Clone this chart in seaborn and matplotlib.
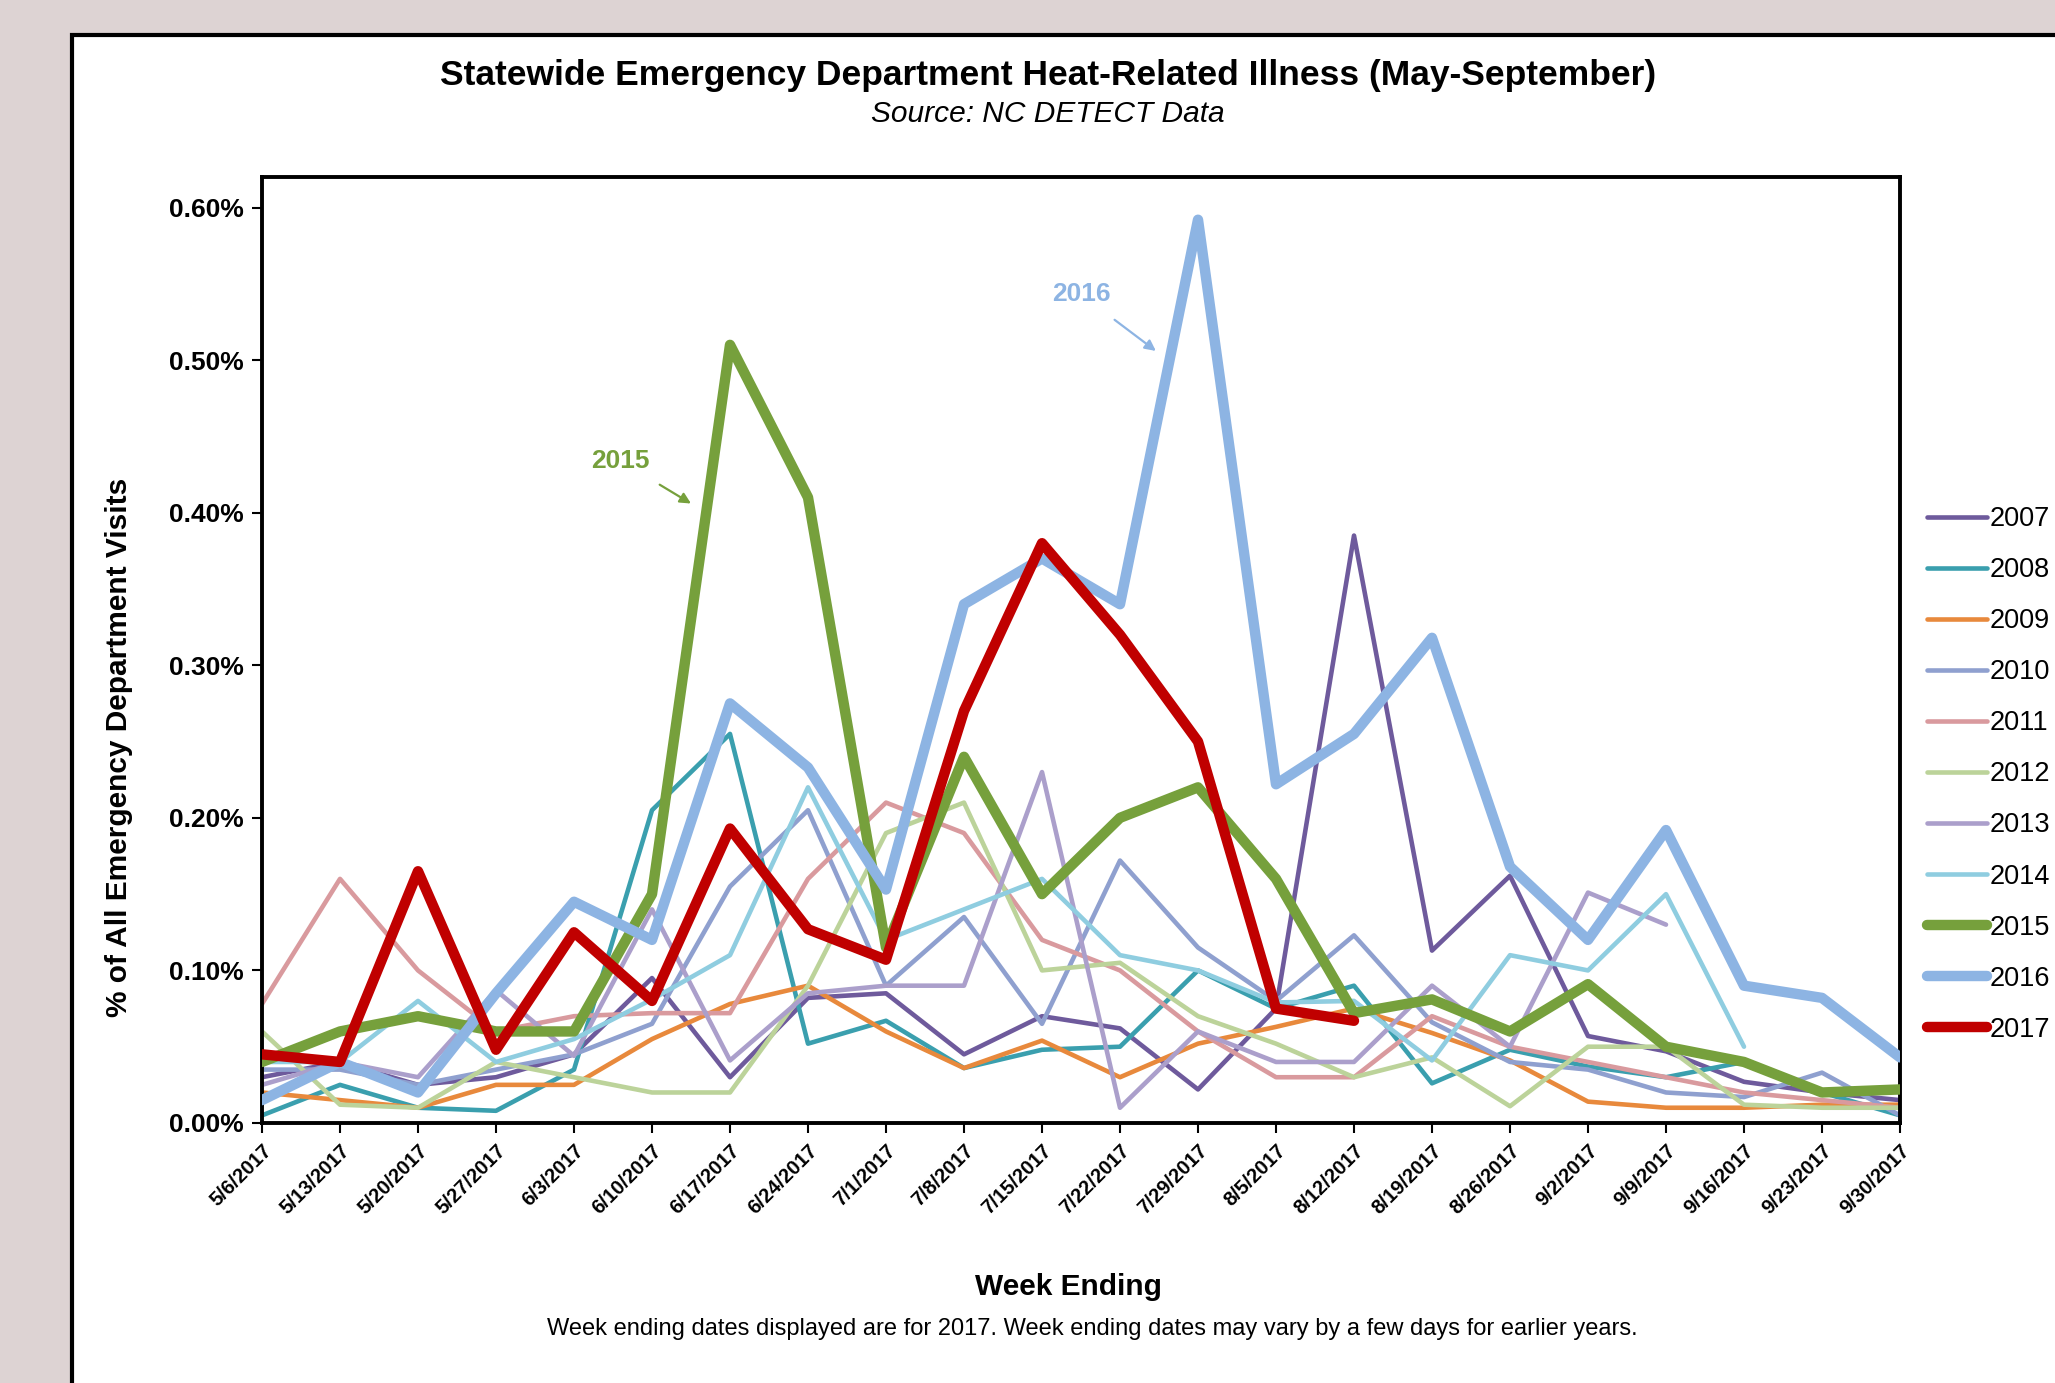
import numpy as np
import pandas as pd
import seaborn as sns
import matplotlib.pyplot as plt
from matplotlib.patches import Rectangle
from matplotlib.ticker import FuncFormatter

weeks = ['5/6/2017', '5/13/2017', '5/20/2017', '5/27/2017', '6/3/2017', '6/10/2017',
         '6/17/2017', '6/24/2017', '7/1/2017', '7/8/2017', '7/15/2017', '7/22/2017',
         '7/29/2017', '8/5/2017', '8/12/2017', '8/19/2017', '8/26/2017', '9/2/2017',
         '9/9/2017', '9/16/2017', '9/23/2017', '9/30/2017']

nan = np.nan
# values are percent of all ED visits
y2007 = [0.030, 0.040, 0.025, 0.030, 0.045, 0.095, 0.030, 0.082, 0.085, 0.045, 0.070,
         0.062, 0.022, 0.075, 0.385, 0.113, 0.162, 0.057, 0.047, 0.027, 0.020, 0.015]
y2008 = [0.005, 0.025, 0.010, 0.008, 0.035, 0.205, 0.255, 0.052, 0.067, 0.036, 0.048,
         0.050, 0.100, 0.075, 0.090, 0.026, 0.048, 0.037, 0.030, 0.040, 0.020, 0.005]
y2009 = [0.020, 0.015, 0.010, 0.025, 0.025, 0.055, 0.078, 0.090, 0.060, 0.036, 0.054,
         0.030, 0.052, 0.063, 0.075, 0.059, 0.041, 0.014, 0.010, 0.010, 0.012, 0.012]
y2010 = [0.035, 0.035, 0.025, 0.035, 0.045, 0.065, 0.155, 0.205, 0.090, 0.135, 0.065,
         0.172, 0.115, 0.080, 0.123, 0.066, 0.040, 0.035, 0.020, 0.017, 0.033, 0.005]
y2011 = [0.078, 0.160, 0.100, 0.060, 0.070, 0.072, 0.072, 0.160, 0.210, 0.190, 0.120,
         0.100, 0.060, 0.030, 0.030, 0.070, 0.050, 0.040, 0.030, 0.020, 0.015, 0.010]
y2012 = [0.060, 0.012, 0.010, 0.040, 0.030, 0.020, 0.020, 0.090, 0.190, 0.210, 0.100,
         0.105, 0.070, 0.052, 0.030, 0.043, 0.011, 0.050, 0.050, 0.012, 0.010, 0.010]
y2013 = [0.025, 0.040, 0.030, 0.087, 0.044, 0.140, 0.041, 0.085, 0.090, 0.090, 0.230,
         0.010, 0.060, 0.040, 0.040, 0.090, 0.050, 0.151, 0.130, nan, nan, nan]
y2014 = [0.040, 0.040, 0.080, 0.040, 0.055, 0.081, 0.110, 0.220, 0.120, 0.140, 0.160,
         0.110, 0.100, 0.079, 0.080, 0.041, 0.110, 0.100, 0.150, 0.050, nan, nan]
y2015 = [0.040, 0.060, 0.070, 0.060, 0.060, 0.150, 0.510, 0.410, 0.115, 0.240, 0.150,
         0.200, 0.220, 0.160, 0.072, 0.081, 0.060, 0.091, 0.050, 0.040, 0.020, 0.022]
y2016 = [0.015, 0.040, 0.020, 0.085, 0.145, 0.120, 0.275, 0.233, 0.153, 0.340, 0.370,
         0.340, 0.592, 0.222, 0.255, 0.318, 0.168, 0.120, 0.192, 0.090, 0.082, 0.043]
y2017 = [0.045, 0.040, 0.165, 0.048, 0.125, 0.080, 0.193, 0.127, 0.107, 0.270, 0.380,
         0.320, 0.250, 0.075, 0.067, nan, nan, nan, nan, nan, nan, nan]

years = ['2007', '2008', '2009', '2010', '2011', '2012', '2013', '2014', '2015', '2016', '2017']
series = [y2007, y2008, y2009, y2010, y2011, y2012, y2013, y2014, y2015, y2016, y2017]
colors = ['#6e5a9c', '#3a9fae', '#e8893c', '#8fa0cf', '#d99a9e', '#bcd39a',
          '#ab9fcb', '#8fcde0', '#76a03c', '#8db4e3', '#c00000']
thick = {'2015', '2016', '2017'}

sns.set_style('white')
plt.rcParams['font.family'] = ['Liberation Sans', 'DejaVu Sans']
plt.rcParams['text.color'] = 'black'
plt.rcParams['xtick.color'] = 'black'
plt.rcParams['ytick.color'] = 'black'
plt.rcParams['axes.labelcolor'] = 'black'

fig = plt.figure(figsize=(20.55, 13.83), dpi=100)
fig.patch.set_facecolor('#ddd3d3')
# white panel behind the chart
fig.patches.append(Rectangle((72 / 2055, -0.05), 1.1, (1383 - 35) / 1383 + 0.05,
                             transform=fig.transFigure, facecolor='white',
                             edgecolor='black', linewidth=3, zorder=-10))

ax = fig.add_axes([262 / 2055, 1 - 1123 / 1383, (1900 - 262) / 2055, (1123 - 177) / 1383])
ax.set_zorder(5)
ax.set_facecolor('white')

x = np.arange(len(weeks))
for yr, vals, col in zip(years, series, colors):
    df = pd.DataFrame({'week': x, 'pct': vals}).dropna()
    lw = 7.5 if yr in thick else 3.3
    sns.lineplot(data=df, x='week', y='pct', color=col, linewidth=lw, ax=ax,
                 label=yr, zorder=3 if yr in thick else 2,
                 solid_capstyle='round', solid_joinstyle='round')

ax.set_xlim(0, len(weeks) - 1)
ax.set_ylim(0, 0.62)
ax.set_yticks([0, 0.1, 0.2, 0.3, 0.4, 0.5, 0.6])
ax.yaxis.set_major_formatter(FuncFormatter(lambda v, p: f'{v:.2f}%'))
ax.set_xticks(x)
ax.set_xticklabels(weeks, rotation=45, ha='right', rotation_mode='anchor',
                   fontsize=14.5, fontweight='bold')
for lab in ax.get_yticklabels():
    lab.set_fontsize(19)
    lab.set_fontweight('bold')
ax.tick_params(axis='both', direction='out', length=7, width=1.5, color='black',
               bottom=True, left=True, pad=6)
for s in ax.spines.values():
    s.set_color('black')
    s.set_linewidth(2.8)

ax.set_xlabel('')
ax.set_ylabel('')
fig.text(119 / 2055, 1 - 747 / 1383, '% of All Emergency Department Visits',
         rotation=90, ha='center', va='center', fontsize=21.5, fontweight='bold')

ax.annotate('2016', xy=(11.46, 0.506), xytext=(10.5, 0.543), color='#8db4e3',
            fontsize=19, fontweight='bold', ha='center', va='center',
            arrowprops=dict(arrowstyle='-|>', color='#8db4e3', lw=1.6,
                            mutation_scale=16, shrinkA=12, shrinkB=0))
ax.annotate('2015', xy=(5.50, 0.406), xytext=(4.59, 0.434), color='#76a03c',
            fontsize=19, fontweight='bold', ha='center', va='center',
            arrowprops=dict(arrowstyle='-|>', color='#76a03c', lw=1.6,
                            mutation_scale=16, shrinkA=12, shrinkB=0))

ax.legend(loc='upper left', bbox_to_anchor=(1927 / 2055, 0.634),
          bbox_transform=fig.transFigure, frameon=False, fontsize=19.5,
          handlelength=2.2, handletextpad=0.1, labelspacing=0.925,
          borderpad=0, borderaxespad=0)

fig.text(1048 / 2055, 1 - 76 / 1383,
         'Statewide Emergency Department Heat-Related Illness (May-September)',
         ha='center', va='center', fontsize=25.5, fontweight='bold')
fig.text(1048 / 2055, 1 - 114 / 1383, 'Source: NC DETECT Data', ha='center',
         va='center', fontsize=21.5, style='italic')
fig.text(1068 / 2055, 1 - 1287 / 1383, 'Week Ending', ha='center', va='center',
         fontsize=21.5, fontweight='bold')
fig.text(1092 / 2055, 1 - 1329 / 1383,
         'Week ending dates displayed are for 2017. Week ending dates may vary by a few days for earlier years.',
         ha='center', va='center', fontsize=17)

fig.savefig('out.png', dpi=100, facecolor=fig.get_facecolor())
